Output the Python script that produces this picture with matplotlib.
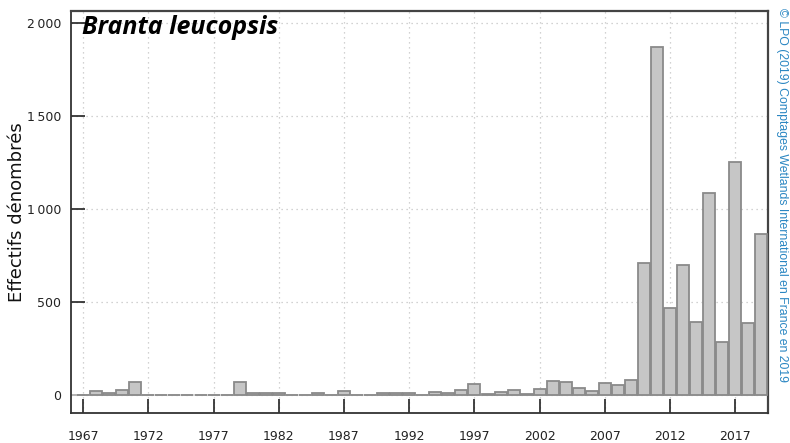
import matplotlib
matplotlib.use("Agg")
import matplotlib.pyplot as plt
import numpy as np

years = list(range(1967, 2020))
values = [0, 20, 8, 28, 70, 0, 0, 0, 0, 0, 0, 0, 70, 9, 8, 8, 0, 0, 8, 0, 20,
          0, 0, 8, 8, 8, 0, 14, 8, 27, 57, 7, 14, 27, 7, 34, 75, 68, 39, 20, 63,
          56, 82, 710, 1869, 466, 697, 392, 1086, 285, 1254, 387, 866]
xticks = [1967, 1972, 1977, 1982, 1987, 1992, 1997, 2002, 2007, 2012, 2017]
yticks = [0, 500, 1000, 1500, 2000]
ytick_labels = ["0", "500", "1\u2009000", "1\u2009500", "2\u2009000"]
title = "Branta leucopsis"
ylabel = "Effectifs dénombrés"
credit = "© LPO (2019) Comptages Wetlands International en France en 2019"

fig = plt.figure(figsize=(7.9, 4.43), dpi=100)
ax = fig.add_axes([71/790, 30/443, (768-71)/790, (413-11)/443])

ax.bar(years, values, width=0.92, color="#c6c6c6", edgecolor="#8a8a8a",
       linewidth=1.3, zorder=3)
ax.axhline(0, color="#cccccc", linewidth=1.2, zorder=2)

ax.set_xlim(1966.07, 2019.5)
ax.set_ylim(-97, 2065)
ax.set_xticks(xticks)
ax.set_yticks(yticks)
ax.set_yticklabels(ytick_labels)
ax.grid(True, linestyle=(0, (1, 3)), color="#c4c4c4", linewidth=0.9, zorder=0)

ax.tick_params(axis="x", direction="in", length=10, width=1.2, pad=12,
               labelsize=9, colors="#222222")
ax.tick_params(axis="y", direction="in", length=10, width=1.2, pad=7,
               labelsize=9, colors="#222222")
for s in ["left", "bottom"]:
    ax.spines[s].set_color("#333333")
    ax.spines[s].set_linewidth(1.3)
for s in ["top", "right"]:
    ax.spines[s].set_color("#444444")
    ax.spines[s].set_linewidth(1.6)

ax.set_ylabel(ylabel, fontsize=13, color="#111111")
ax.yaxis.set_label_coords(-0.064, 0.5)

ax.text(0.016, 0.99, title, transform=ax.transAxes, fontsize=18,
        fontweight="bold", fontstyle="italic", family="Open Sans",
        ha="left", va="top", color="black", zorder=5)

fig.text(782/790, 1 - 8/443, credit, rotation=-90, ha="center", va="top",
         fontsize=8.8, color="#2a86c2", family="Liberation Sans")

fig.savefig("out.png", dpi=100)
